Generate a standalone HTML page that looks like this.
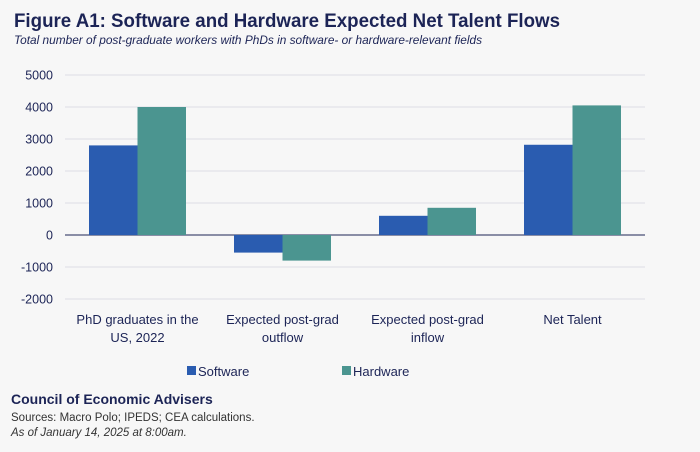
<!DOCTYPE html>
<html><head><meta charset="utf-8"><style>
body{margin:0;background:#f7f7f7;font-family:"Liberation Sans",sans-serif;}
#wrap{position:relative;width:700px;height:452px;overflow:hidden;background:#f7f7f7;}
</style></head><body>
<div id="wrap">
<svg id="svg" width="700" height="452">
<text x="14" y="27" font-size="19" font-weight="bold" fill="#1c2456" textLength="546" lengthAdjust="spacingAndGlyphs">Figure A1: Software and Hardware Expected Net Talent Flows</text>
<text x="14" y="44" font-size="12" font-style="italic" fill="#1c2456" textLength="468" lengthAdjust="spacingAndGlyphs">Total number of post-graduate workers with PhDs in software- or hardware-relevant fields</text>
<g id="grid"></g><g id="bars"></g><g id="labels"></g>
<rect x="187" y="366" width="9" height="9" fill="#2a5cb0"/>
<text x="198" y="376" font-size="13" fill="#1c2456">Software</text>
<rect x="342" y="366" width="9" height="9" fill="#4b9590"/>
<text x="353" y="376" font-size="13" fill="#1c2456">Hardware</text>
<text x="11" y="404" font-size="14" font-weight="bold" fill="#1c2456">Council of Economic Advisers</text>
<text x="11" y="421" font-size="11.5" fill="#333">Sources: Macro Polo; IPEDS; CEA calculations.</text>
<text x="11" y="436" font-size="11.5" font-style="italic" fill="#333">As of January 14, 2025 at 8:00am.</text>
</svg>
</div>
<script>
const categories=[["PhD graduates in the","US, 2022"],["Expected post-grad","outflow"],["Expected post-grad","inflow"],["Net Talent"]];
const software=[2800,-550,600,2820];
const hardware=[4000,-800,850,4050];
const ticks=[5000,4000,3000,2000,1000,0,-1000,-2000];
const NS="http://www.w3.org/2000/svg";
const x0=65,x1=645,gw=(x1-x0)/4,bw=48.5;
function y(v){return 235-v*0.032;}
function mk(t,a,p){const e=document.createElementNS(NS,t);for(const k in a)e.setAttribute(k,a[k]);p.appendChild(e);return e;}
const grid=document.getElementById('grid'),bars=document.getElementById('bars'),lab=document.getElementById('labels');
ticks.forEach(t=>{
 const l=mk('line',{x1:x0,x2:x1,y1:y(t),y2:y(t),stroke:t===0?'#1c2456':'#dcdce4','stroke-width':1},grid);
 
 
 const tx=mk('text',{x:53,y:y(t)+4.5,'font-size':12.5,fill:'#1c2456','text-anchor':'end'},grid);
 tx.textContent=t;
 
 
});
categories.forEach((c,i)=>{
 const cx=x0+gw*(i+0.5);
 [[software[i],'#2a5cb0',cx-bw],[hardware[i],'#4b9590',cx]].forEach((s,j)=>{
  const v=s[0];
  const r=mk('rect',{x:s[2],width:bw,y:Math.min(y(v),y(0)),height:Math.abs(y(v)-y(0)),fill:s[1]},bars);
  
  
 });
 c.forEach((line,k)=>{
  const t=mk('text',{x:cx,y:324+k*18,'font-size':13,fill:'#1c2456','text-anchor':'middle'},lab);
  t.textContent=line;
  
  
 });
});
</script>
</body></html>
